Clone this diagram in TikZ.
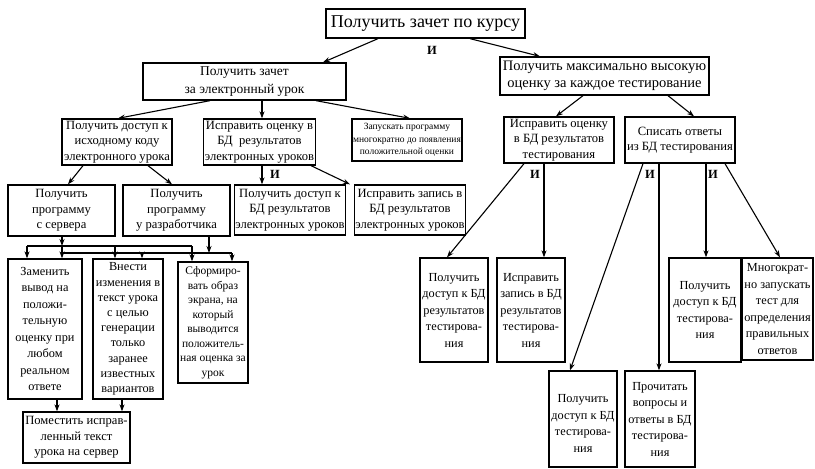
\documentclass[tikz,border=0pt]{standalone}
\usepackage{fontspec}
\setmainfont{Liberation Serif}
\usetikzlibrary{arrows.meta}
\tikzset{
 box/.style={draw, line width=1.3pt, inner sep=1pt, align=center},
 ftop/.style={font=\fontsize{18}{20}\selectfont},
 fa/.style={font=\fontsize{13.5}{17.5}\selectfont},
 fab/.style={font=\fontsize{14.5}{17.5}\selectfont},
 fb/.style={font=\fontsize{12.6}{15.5}\selectfont},
 fs/.style={font=\fontsize{9.5}{12.5}\selectfont},
 fc/.style={font=\fontsize{12.3}{16.5}\selectfont},
 fcc/.style={font=\fontsize{12.3}{15.2}\selectfont},
 fcs/.style={font=\fontsize{11.5}{14.5}\selectfont},
 arr/.style={line width=1.1pt, -{Stealth[length=7pt,width=5pt]}},
 ln/.style={line width=1.1pt},
 andl/.style={font=\bfseries\fontsize{12.5}{12.5}\selectfont, inner sep=0pt},
}
\newcommand\mkbox[7]{%
  \pgfmathsetmacro\bxw{#4-#2}\pgfmathsetmacro\bxh{#5-#3}%
  \node[box,#6, minimum width=\bxw pt, minimum height=\bxh pt] (#1) at ({(#2+#4)/2},{(#3+#5)/2}) {#7};}
\begin{document}
\begin{tikzpicture}[x=1pt,y=-1pt]
\useasboundingbox (0,0) rectangle (815,469);
\mkbox{top}{326}{9}{525}{38}{ftop}{Получить зачет по курсу}
\mkbox{La}{143}{63}{346}{100}{fa}{Получить зачет\\за электронный урок}
\mkbox{Lb}{500}{57}{709}{95}{fab}{Получить максимально высокую\\оценку за каждое тестирование}
\mkbox{acc}{62}{119}{172}{165}{fb}{Получить доступ к\\исходному коду\\электронного урока}
\mkbox{fix}{206}{119}{313}{165}{fb}{Исправить оценку в\\БД~~результатов\\электронных уроков}
\mkbox{run}{352}{119}{462}{161}{fs}{Запускать программу\\многократно до появления\\положительной оценки}
\mkbox{fixt}{504}{117}{614}{163}{fb}{Исправить оценку\\в БД результатов\\тестирования}
\mkbox{cop}{625}{117}{735}{163}{fb}{Списать ответы\\из БД тестирования}
\mkbox{srv}{8}{185}{115}{236}{fb}{Получить\\программу\\с сервера}
\mkbox{dev}{123}{185}{230}{236}{fb}{Получить\\программу\\у разработчика}
\mkbox{accdb}{235}{185}{345}{235}{fb}{Получить доступ к\\БД результатов\\электронных уроков}
\mkbox{fixrec}{355}{185}{465}{235}{fb}{Исправить запись в\\БД результатов\\электронных уроков}
\mkbox{rep}{8}{259}{82}{399}{fc}{Заменить\\вывод на\\положи-\\тельную\\оценку при\\любом\\реальном\\ответе}
\mkbox{chg}{93}{259}{163}{399}{fcc}{Внести\\изменения в\\текст урока\\с целью\\генерации\\только\\заранее\\известных\\вариантов}
\mkbox{scr}{178}{262}{248}{383}{fcs}{Сформиро-\\вать образ\\экрана, на\\который\\выводится\\положитель-\\ная оценка за\\урок}
\mkbox{put}{23}{412}{130}{463}{fb}{Поместить исправ-\\ленный текст\\урока на сервер}
\mkbox{A}{420}{258}{488}{362}{fc}{Получить\\доступ к БД\\результатов\\тестирова-\\ния}
\mkbox{B}{497}{258}{565}{362}{fc}{Исправить\\запись в БД\\результатов\\тестирова-\\ния}
\mkbox{C}{669}{258}{741}{362}{fc}{Получить\\доступ к БД\\тестирова-\\ния}
\mkbox{D}{742}{258}{813}{360}{fc}{Многократ-\\но запускать\\тест для\\определения\\правильных\\ответов}
\mkbox{E}{549}{371}{617}{467}{fc}{~\\Получить\\доступ к БД\\тестирова-\\ния}
\mkbox{F}{625}{371}{695}{467}{fc}{Прочитать\\вопросы и\\ответы в БД\\тестирова-\\ния}
% top level
\draw[arr] (top.south -| 378,0) -- (La.north -| 323,0);
\draw[arr] (top.south -| 470,0) -- (Lb.north -| 540,0);
\node[andl] (and1) at (432,50) {И};
% left subtree
\draw[arr] (La.south -| 210,0) -- (acc.north -| 118,0);
\draw[arr] (La.south -| 262,0) -- (fix.north -| 262,0);
\draw[arr] (La.south -| 316,0) -- (run.north -| 410,0);
\draw[arr] (acc.south -| 83,0) -- (srv.north -| 68,0);
\draw[arr] (acc.south -| 148,0) -- (dev.north -| 172,0);
\draw[arr] (fix.south -| 262,0) -- (accdb.north -| 262,0);
\draw[arr] (fix.south -| 311,0) -- (fixrec.north -| 350,0);
\node[andl] (and2) at (275,174) {И};
% buses
\coordinate (b1l) at (27,246); \coordinate (b1m) at (62,246); \coordinate (b1r) at (192,246);
\coordinate (b2l) at (62,253); \coordinate (b2m) at (209,253); \coordinate (b2r) at (232,253);
\draw[ln] (b1l) -- (b1r);
\draw[ln] (b2l) -- (b2r);
\draw[arr] (srv.south -| b1m) -- (b1m);
\draw[arr] (dev.south -| b2m) -- (b2m);
\draw[arr] (b1l) -- (rep.north -| b1l);
\draw[arr] (b1m) -- (rep.north -| b1m);
\draw[arr] (115,246) -- (chg.north -| 115,0);
\draw[arr] (142,253) -- (chg.north -| 142,0);
\draw[arr] (b1r) -- (scr.north -| b1r);
\draw[arr] (b2r) -- (scr.north -| b2r);
\draw[arr] (rep.south -| 57,0) -- (put.north -| 57,0);
\draw[arr] (chg.south -| 122,0) -- (put.north -| 122,0);
% right subtree
\draw[arr] (Lb.south -| 583,0) -- (fixt.north -| 556,0);
\draw[arr] (Lb.south -| 668,0) -- (cop.north -| 694,0);
\draw[arr] (fixt.south -| 524,0) -- (A.north -| 447,0);
\draw[arr] (fixt.south -| 544,0) -- (B.north -| 544,0);
\node[andl] (and3) at (535,174) {И};
\draw[arr] (cop.south -| 643,0) -- (E.north -| 570,0);
\draw[arr] (cop.south -| 659,0) -- (F.north -| 659,0);
\draw[arr] (cop.south -| 706,0) -- (C.north -| 706,0);
\draw[arr] (cop.south -| 725,0) -- (D.north -| 780,0);
\node[andl] (and4) at (650,174) {И};
\node[andl] (and5) at (713,174) {И};
\end{tikzpicture}
\end{document}
